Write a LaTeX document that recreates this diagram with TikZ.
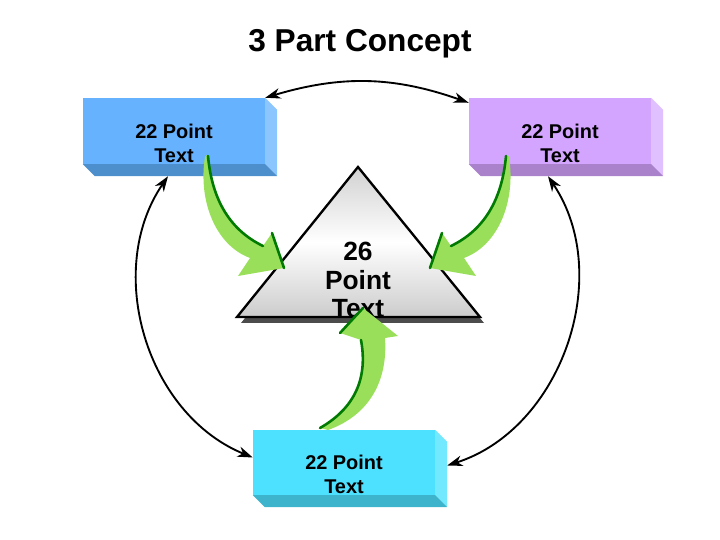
\documentclass[tikz,border=0pt]{standalone}
\usepackage{fontspec}
\setmainfont{Liberation Sans}
\usetikzlibrary{arrows.meta}

\definecolor{lfront}{HTML}{66B2FF}
\definecolor{lside}{HTML}{8CC6FF}
\definecolor{lbottom}{HTML}{4D8FCC}
\definecolor{rfront}{HTML}{D4A5FF}
\definecolor{rside}{HTML}{E0C0FF}
\definecolor{rbottom}{HTML}{AA82CC}
\definecolor{bfront}{HTML}{4DE1FF}
\definecolor{bside}{HTML}{73E9FF}
\definecolor{bbottom}{HTML}{3EB4CC}
\definecolor{agreen}{HTML}{9ADF5A}
\definecolor{adark}{HTML}{007A00}

% 箱の奥行き (右面と下面)
\newcommand{\slabdepth}[3]{%
  \fill[#2] (#1.north east) -- ([shift={(12,12)}]#1.north east)
    -- ([shift={(12,12)}]#1.south east) -- (#1.south east) -- cycle;
  \fill[#3] (#1.south west) -- (#1.south east)
    -- ([shift={(12,12)}]#1.south east) -- ([shift={(12,12)}]#1.south west) -- cycle;}

\tikzset{
  slab/.style={minimum width=5.46cm, minimum height=1.98cm, inner sep=0pt},
  boxtext/.style={align=center, font=\fontsize{17}{21}\selectfont\bfseries},
  tritext/.style={align=center, font=\fontsize{22.5}{24}\selectfont\bfseries},
  garrow/.style={fill=agreen},
  gedge/.style={draw=adark, line width=2.2pt, line cap=round},
  link/.style={<->, line width=1.6pt},
}

\begin{document}
\begin{tikzpicture}[x=0.03cm, y=-0.03cm, >={Stealth[length=13pt,width=9pt,inset=4pt]}]
  \useasboundingbox (0,0) rectangle (720,540);

  % 1. タイトル
  \node[font=\fontsize{27}{30}\selectfont\bfseries, text depth=0pt] (title) at (360,40) {3 Part Concept};

  % 2. 三つの箱
  \node[slab, fill=lfront] (lbox) at (174,131) {};
  \slabdepth{lbox}{lside}{lbottom}
  \node[boxtext] (ltext) at (174,143.5) {22 Point\\Text};

  \node[slab, fill=rfront] (rbox) at (560,131) {};
  \slabdepth{rbox}{rside}{rbottom}
  \node[boxtext] (rtext) at (560,143.5) {22 Point\\Text};

  \node[slab, fill=bfront, minimum height=1.95cm] (bbox) at (344,462.5) {};
  \slabdepth{bbox}{bside}{bbottom}
  \node[boxtext] (btext) at (344,474.5) {22 Point\\Text};

  % 3. 中央の三角形
  \coordinate (apex) at (358,167);
  \coordinate (bl) at (237,317);
  \coordinate (br) at (480,317);
  \fill[black!70] ([shift={(4,6)}]apex) -- ([shift={(4,6)}]bl) -- ([shift={(4,6)}]br) -- cycle;
  \draw[line width=2pt, line join=miter, top color=black!18, bottom color=black!20, middle color=white]
    (apex) -- (bl) -- (br) -- cycle;
  \node[tritext] (ttext) at (358,280) {26\\Point\\Text};

  % 4. 箱どうしを結ぶ弧
  \draw[link] (lbox.north east) to[bend left=18] ([shift={(0,5)}]rbox.north west);
  \draw[link] ([shift={(-6,12)}]lbox.south) to[bend right=51] ([shift={(0,-5)}]bbox.west);
  \draw[link] ([shift={(-12,12)}]rbox.south) to[bend left=53] ([shift={(12,3)}]bbox.east);

  % 5. 緑の矢印 (左, 右は左の鏡像)
  \fill[garrow] (207,155) .. controls (212,200) and (230,230) .. (263,246)
    -- (272,233) -- (284,268) -- (238,276) -- (250,258)
    .. controls (215,245) and (198,200) .. (205,157) -- cycle;
  \draw[gedge] (208,156) .. controls (212,200) and (230,230) .. (263,246);
  \draw[gedge] (272,233) -- (284,268);

  \begin{scope}[shift={(714,0)}, xscale=-1]
    \fill[garrow] (207,155) .. controls (212,200) and (230,230) .. (263,246)
      -- (272,233) -- (284,268) -- (238,276) -- (250,258)
      .. controls (215,245) and (198,200) .. (205,157) -- cycle;
    \draw[gedge] (208,156) .. controls (212,200) and (230,230) .. (263,246);
    \draw[gedge] (272,233) -- (284,268);
  \end{scope}

  % 下の矢印
  \fill[garrow] (320,428) .. controls (355,408) and (368,378) .. (361,340)
    -- (340,333) -- (363,308) -- (398,336) -- (385,338)
    .. controls (388,380) and (370,415) .. (328,430) -- cycle;
  \draw[gedge] (320,428) .. controls (355,408) and (368,378) .. (361,340);
  \draw[gedge] (340,333) -- (363,308);

\end{tikzpicture}
\end{document}
